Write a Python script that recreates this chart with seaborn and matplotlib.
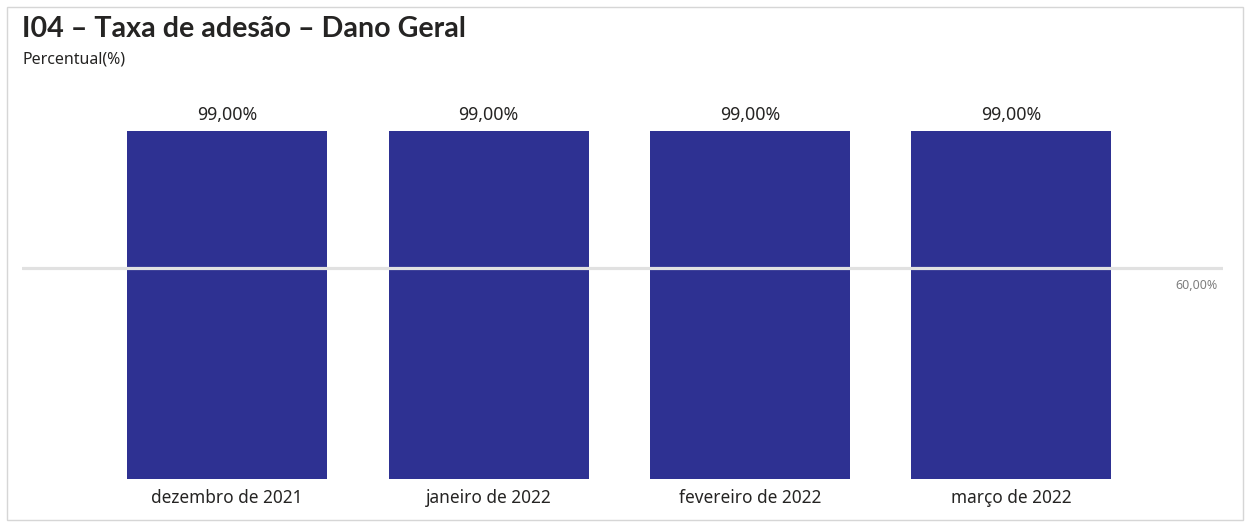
import matplotlib
matplotlib.use("Agg")
import matplotlib.pyplot as plt
import matplotlib.patches as patches
import pandas as pd
import seaborn as sns

# chart data
months = ["dezembro de 2021", "janeiro de 2022", "fevereiro de 2022", "março de 2022"]
adesao = [99.0, 99.0, 99.0, 99.0]
meta = 60.0

bar_color = "#2e3192"
text_color = "#252423"


def fmt_pct(v):
    return f"{v:.2f}".replace(".", ",") + "%"


df = pd.DataFrame({"mes": months, "valor": adesao})

sns.set_style("white")
plt.rcParams["font.family"] = ["Noto Sans", "DejaVu Sans"]

fig = plt.figure(figsize=(12.5, 5.25), dpi=100)
ax = fig.add_axes([0.0176, 0.0876, 0.9608, 0.7231])

sns.barplot(data=df, x="mes", y="valor", color=bar_color, width=0.765,
            saturation=1, linewidth=0, ax=ax, zorder=2)

# target line
ax.axhline(meta, color="#e1e1e1", linewidth=2.3, zorder=3)
ax.text(3.81 - 0.02, meta - 3.2, fmt_pct(meta), ha="right", va="top",
        fontsize=9, color="#7f7f7f")

ax.bar_label(ax.containers[0], labels=[fmt_pct(v) for v in adesao],
             padding=5, fontsize=12.8, color=text_color)

ax.set_xlim(-0.785, 3.81)
ax.set_ylim(0, 108)
ax.set_xlabel("")
ax.set_ylabel("")
ax.set_yticks([])
ax.tick_params(axis="x", length=0, pad=7, labelsize=12.4, labelcolor=text_color)
sns.despine(ax=ax, left=True, bottom=True)

fig.text(0.0176, 0.945, "I04 – Taxa de adesão – Dano Geral", fontsize=20.6,
         fontweight="bold", family=["Lato", "DejaVu Sans"], color=text_color,
         ha="left", va="center")
fig.text(0.0176, 0.887, "Percentual(%)", fontsize=11.5, color=text_color,
         ha="left", va="center")

# card border
fig.patches.append(patches.Rectangle((0.0056, 0.01), 0.9888, 0.977,
                                     transform=fig.transFigure, fill=False,
                                     edgecolor="#d6d6d6", linewidth=1))

fig.savefig("out.png", dpi=100)
